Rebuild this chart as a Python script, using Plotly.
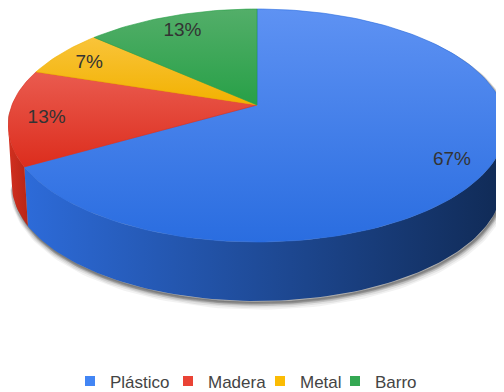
import math
import plotly.graph_objects as go

# ---- data ----
categories = ["Plástico", "Madera", "Metal", "Barro"]
values = [10, 2, 1, 2]
top_light = ["#5e92f3", "#ea5b4f", "#f9c43a", "#53ae69"]
top_dark = ["#2a6de0", "#dc2d1d", "#f2b100", "#27a047"]
side_light = ["#2d6bd9", "#d23020", "#e0a200", "#23913f"]
side_dark = ["#102a55", "#b82616", "#c08a00", "#1a6e30"]
legend_colors = ["#4285f4", "#ea4335", "#fbbc04", "#34a853"]
legend_text_x = [110, 208, 300, 375]   # page px where each legend text starts

# page has an 8px body margin: figure is 496x384 placed at (8,8)
OFF = 8
W, H = 504 - OFF, 392 - OFF

# ---- projection of the tilted disc (perspective) ----
CX, CY = 257.0, 105.0
A, B, K = 245.0, 112.9, 0.176
DEPTH, BOT_SX = 59.0, 0.985
LABEL_R, LABEL_DY = 0.85, 3.0
T_R = math.degrees(math.acos(-K))
T_L = 360.0 - T_R


def proj(t_deg, r=1.0, dy=0.0, sx=1.0):
    t = math.radians(t_deg)
    u, v = r * math.sin(t), r * math.cos(t)
    den = 1.0 + K * v
    return CX + sx * A * u / den, CY - B * v / den + dy


def arc(t0, t1, n, **kw):
    pts = [proj(t0 + (t1 - t0) * i / n, **kw) for i in range(n + 1)]
    return [p[0] for p in pts], [p[1] for p in pts]


total = sum(values)
angles = [0.0]
for v in values:
    angles.append(angles[-1] + 360.0 * v / total)

fig = go.Figure()

# ---- soft shadow (silhouette, layered) ----
for off, op in [(5, 0.05), (4, 0.07), (3, 0.09), (2, 0.12)]:
    bx, by = arc(T_L - 360, T_R, 120)
    fx, fy = arc(T_R, T_L, 120, dy=DEPTH, sx=BOT_SX)
    xs = [x + off * 0.4 for x in bx + fx]
    ys = [y + off for y in by + fy]
    fig.add_trace(go.Scatter(x=xs, y=ys, fill="toself", mode="lines",
                             line=dict(width=off * 1.5, color=f"rgba(0,0,0,{op})"),
                             fillcolor=f"rgba(0,0,0,{op})",
                             hoverinfo="skip", showlegend=False))

# ---- side walls ----
for i, cat in enumerate(categories):
    ta, tb = max(angles[i], T_R), min(angles[i + 1], T_L)
    if ta >= tb:
        continue
    n = max(4, int((tb - ta) / 1.5))
    tx, ty = arc(ta, tb, n)
    bx, by = arc(tb, ta, n, dy=DEPTH, sx=BOT_SX)
    xs, ys = tx + bx, ty + by
    fig.add_trace(go.Scatter(
        x=xs, y=ys, fill="toself", mode="lines", line=dict(width=0),
        fillgradient=dict(type="horizontal",
                          colorscale=[[0, side_light[i]], [1, side_dark[i]]],
                          start=min(xs), stop=max(xs)),
        hoverinfo="skip", showlegend=False))

# ---- top faces ----
for i, cat in enumerate(categories):
    t0, t1 = angles[i], angles[i + 1]
    n = max(6, int((t1 - t0) / 1.5))
    ax_, ay_ = arc(t0, t1, n)
    xs = [CX] + ax_ + [CX]
    ys = [CY] + ay_ + [CY]
    fig.add_trace(go.Scatter(
        x=xs, y=ys, fill="toself", mode="lines", line=dict(width=0.6, color=top_dark[i]),
        fillgradient=dict(type="vertical",
                          colorscale=[[0, top_light[i]], [1, top_dark[i]]],
                          start=min(ys), stop=max(ys)),
        hoverinfo="skip", showlegend=False))

# ---- percentage labels ----
lx, ly, lt = [], [], []
for i, v in enumerate(values):
    mid = (angles[i] + angles[i + 1]) / 2
    x, y = proj(mid, r=LABEL_R, dy=LABEL_DY)
    lx.append(x)
    ly.append(y)
    lt.append(f"{round(100 * v / total)}%")
fig.add_trace(go.Scatter(x=lx, y=ly, text=lt, mode="text",
                         textfont=dict(family="Liberation Sans, Arial", size=19, color="#333333"),
                         hoverinfo="skip", showlegend=False))

# ---- legend entries (one legend per entry, positioned like the original) ----
legend_ids = ["legend", "legend2", "legend3", "legend4"]
legend_layout = {}
for i, cat in enumerate(categories):
    fig.add_trace(go.Scatter(x=[None], y=[None], mode="markers", name=cat,
                             legend=legend_ids[i],
                             marker=dict(symbol="square", size=10, color=legend_colors[i])))
    legend_layout[legend_ids[i]] = dict(
        orientation="h", x=(legend_text_x[i] - 40 - OFF) / W, xanchor="left",
        y=1 - (381.5 - OFF) / H, yanchor="middle",
        font=dict(family="Liberation Sans, Arial", size=17, color="#444444"),
        bgcolor="rgba(0,0,0,0)", itemclick=False, itemdoubleclick=False)

fig.update_layout(
    width=W, height=H,
    margin=dict(l=0, r=0, t=0, b=0, autoexpand=False),
    paper_bgcolor="white", plot_bgcolor="white",
    xaxis=dict(range=[OFF, 504], visible=False, fixedrange=True),
    yaxis=dict(range=[392, OFF], visible=False, fixedrange=True),
    showlegend=True,
    **legend_layout,
)

fig.write_html("out.html")
